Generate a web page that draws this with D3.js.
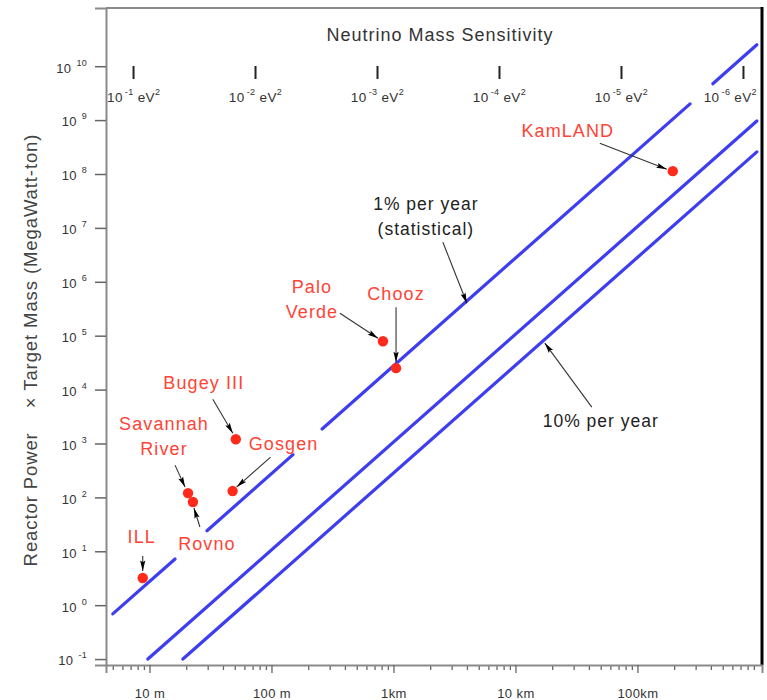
<!DOCTYPE html>
<html>
<head>
<meta charset="utf-8">
<script src="https://cdn.jsdelivr.net/npm/d3@7"></script>
<style>
  html, body { margin: 0; padding: 0; background: #fff; }
  svg { display: block; font-family: "Liberation Sans", Arial, Helvetica, sans-serif; }
</style>
</head>
<body>
<svg id="chart" width="767" height="700"></svg>
<script>
// Reactor experiments: baseline (m) and reactor power x target mass (MW·ton)
const experiments = ["ILL", "Savannah River", "Rovno", "Gosgen", "Bugey III", "Palo Verde", "Chooz", "KamLAND"];
const baselines   = [8.8, 20.7, 22.7, 48, 51, 820, 1050, 195000];
const exposures   = [3.2, 120, 82, 131, 1200, 79000, 25000, 1.13e8];

// Sensitivity curves, each a list of straight segments [[L0, P0], [L1, P1]]
const curveNames = ["1% per year (statistical)", "middle", "10% per year"];
const curve1 = [
  [[5, 0.69], [16.2, 7.2]],
  [[29.6, 24.1], [150, 620]],
  [[260, 1860], [270000, 2.0e9]],
  [[415000, 4.74e9], [953000, 2.5e10]]
];
const curve2 = [[[9.7, 0.1], [953000, 9.6e8]]];
const curve3 = [[[18.8, 0.1], [953000, 2.57e8]]];

// Axis ticks
const powerTicks = [-1, 0, 1, 2, 3, 4, 5, 6, 7, 8, 9, 10];        // exponents of 10
const distanceTicks = [10, 100, 1000, 10000, 100000];
const distanceLabels = ["10 m", "100 m", "1km", "10 km", "100km"];
const massExponents = [-1, -2, -3, -4, -5, -6];                   // Δm² = 10^n eV²
const massToDistance = 0.74;                                       // L (m) at which Δm² (eV²) is probed: L = k / Δm²

const svg = d3.select("#chart");
const W = 767, H = 700;
const margin = { top: 8, right: 5, bottom: 35, left: 106 };

const x = d3.scaleLog().domain([4.4, 1.05e6]).range([margin.left, W - margin.right]);
const y = d3.scaleLog().domain([Math.pow(10, -1.11), Math.pow(10, 11.08)]).range([H - margin.bottom, margin.top]);

const blue = "#3d3df2";
const red = "#ff2a1c";
const labelRed = "#ff4436";

// arrowhead marker
svg.append("defs").append("marker")
  .attr("id", "head")
  .attr("viewBox", "0 -4 12 8")
  .attr("refX", 12).attr("refY", 0)
  .attr("markerUnits", "userSpaceOnUse")
  .attr("markerWidth", 12).attr("markerHeight", 7)
  .attr("orient", "auto")
  .append("path").attr("d", "M0,-3L12,0L0,3L2,0Z").attr("fill", "#000");

// ---- frame ----
const x0 = margin.left, x1 = W - margin.right, y0 = margin.top, y1 = H - margin.bottom;
svg.append("line").attr("x1", x0).attr("x2", x1).attr("y1", y0).attr("y2", y0)
  .attr("stroke", "#8a8a8a").attr("stroke-width", 2);
svg.append("line").attr("x1", x1).attr("x2", x1).attr("y1", y0 - 1).attr("y2", y1)
  .attr("stroke", "#000").attr("stroke-width", 3);

// ---- bottom axis ----
const minorDistances = [];
for (let e = 0; e <= 5; e++) {
  for (let m = 1; m <= 9; m++) {
    const v = m * Math.pow(10, e);
    if (v >= x.domain()[0] && v <= x.domain()[1] && m !== 1) minorDistances.push(v);
  }
}
const gxMinor = svg.append("g").attr("transform", `translate(0,${y1})`)
  .call(d3.axisBottom(x).tickValues(minorDistances).tickSize(5).tickFormat(""));
const gx = svg.append("g").attr("transform", `translate(0,${y1})`)
  .call(d3.axisBottom(x).tickValues(distanceTicks).tickSize(8)
    .tickFormat((d, i) => distanceLabels[i]).tickPadding(16));
[gx, gxMinor].forEach(g => {
  g.select(".domain").attr("stroke", "#8a8a8a").attr("stroke-width", 2);
  g.selectAll(".tick line").attr("stroke", "#666").attr("stroke-width", 1.3);
});
gxMinor.select(".domain").remove();
gx.selectAll(".tick text")
  .attr("font-size", 13).attr("fill", "#333").attr("letter-spacing", 0.4)
  .attr("font-family", "Liberation Sans, Arial, sans-serif");

// ---- left axis ----
const gy = svg.append("g").attr("transform", `translate(${x0},0)`)
  .call(d3.axisLeft(y).tickValues(powerTicks.map(p => Math.pow(10, p))).tickSize(11).tickFormat(""));
gy.select(".domain").attr("stroke", "#8a8a8a").attr("stroke-width", 2);
gy.selectAll(".tick line").attr("stroke", "#666").attr("stroke-width", 1.5);
gy.selectAll(".tick").append("text")
  .attr("x", -19).attr("dy", "0.45em")
  .attr("text-anchor", "end")
  .attr("fill", "#333").attr("font-size", 13).attr("letter-spacing", 0.3)
  .each(function (d) {
    const t = d3.select(this);
    const p = Math.round(Math.log10(d));
    t.append("tspan").text("10");
    t.append("tspan").attr("dx", 5).attr("dy", -7).attr("font-size", 9)
      .text(p < 0 ? "-" + Math.abs(p) : String(p));
  });

// ---- y-axis title ----
svg.append("text")
  .attr("transform", `translate(37,${350}) rotate(-90)`)
  .attr("text-anchor", "middle")
  .attr("fill", "#444").attr("font-size", 18.5).attr("letter-spacing", 0.9)
  .attr("xml:space", "preserve")
  .text("Reactor Power    \u00d7 Target Mass (MegaWatt-ton)");

// ---- top: neutrino mass sensitivity scale ----
svg.append("text")
  .attr("x", 440).attr("y", 41).attr("text-anchor", "middle")
  .attr("fill", "#333").attr("font-size", 18).attr("letter-spacing", 1)
  .text("Neutrino Mass Sensitivity");

const massTicks = svg.append("g").selectAll("g").data(massExponents).join("g")
  .attr("transform", d => `translate(${x(massToDistance / Math.pow(10, d))},0)`);
massTicks.append("line").attr("y1", 66).attr("y2", 79)
  .attr("stroke", "#222").attr("stroke-width", 2);
// labels centred under their tick, kept inside the frame
massTicks.append("text").attr("y", 102).attr("text-anchor", "middle")
  .attr("fill", "#333").attr("font-size", 13.5).attr("letter-spacing", 0.4)
  .each(function (d) {
    const t = d3.select(this);
    t.append("tspan").text("10");
    t.append("tspan").attr("dx", 2).attr("dy", -7).attr("font-size", 9).text("-" + Math.abs(d));
    t.append("tspan").attr("dx", 4).attr("dy", 7).text("eV");
    t.append("tspan").attr("dy", -7).attr("font-size", 9).text("2");
  })
  .attr("x", function (d) {
    const cx = x(massToDistance / Math.pow(10, d));
    const half = this.getComputedTextLength() / 2;
    const c = Math.max(x0 + half + 4, Math.min(x1 - half - 8, cx));
    return c - cx;
  });

// ---- sensitivity lines ----
const line = d3.line().x(d => x(d[0])).y(d => y(d[1]));
const gLines = svg.append("g");
[curve1, curve2, curve3].forEach(curve => {
  curve.forEach(seg => {
    gLines.append("path").attr("d", line(seg))
      .attr("fill", "none").attr("stroke", blue).attr("stroke-width", 3.2)
      .attr("stroke-linecap", "round");
  });
});

// ---- annotation arrows and labels (offsets in px from each dot) ----
const expLayout = {
  "ILL":            { lines: ["ILL"], dx: -1, dy: -35, arrow: [[0, -22], [0, -7]] },
  "Savannah River": { lines: ["Savannah", "River"], dx: -24, dy: -63, arrow: [[-13, -28], [-3, -6]] },
  "Rovno":          { lines: ["Rovno"], dx: 14, dy: 48, arrow: [[7, 25], [1, 6]] },
  "Gosgen":         { lines: ["Gosgen"], dx: 51, dy: -41, arrow: [[38, -34], [4, -4]] },
  "Bugey III":      { lines: ["Bugey III"], dx: -32, dy: -50, arrow: [[-23, -40], [-3, -6]] },
  "Palo Verde":     { lines: ["Palo", "Verde"], dx: -71, dy: -48, arrow: [[-43, -28], [-5, -3]] },
  "Chooz":          { lines: ["Chooz"], dx: 0, dy: -68, arrow: [[0, -61], [0, -6]] },
  "KamLAND":        { lines: ["KamLAND"], dx: -105, dy: -34, arrow: [[-73, -28], [-6, -2]] }
};

const gAnn = svg.append("g");
experiments.forEach((name, i) => {
  const px = x(baselines[i]), py = y(exposures[i]);
  const lay = expLayout[name];
  gAnn.append("line")
    .attr("x1", px + lay.arrow[0][0]).attr("y1", py + lay.arrow[0][1])
    .attr("x2", px + lay.arrow[1][0]).attr("y2", py + lay.arrow[1][1])
    .attr("stroke", "#333").attr("stroke-width", 1.1)
    .attr("marker-end", "url(#head)");
  const t = gAnn.append("text")
    .attr("text-anchor", "middle").attr("fill", labelRed)
    .attr("font-size", 18).attr("letter-spacing", 1.1);
  lay.lines.forEach((s, k) => {
    t.append("tspan").attr("x", px + lay.dx).attr("y", py + lay.dy + k * 25).text(s);
  });
});

// experiment dots
svg.append("g").selectAll("circle").data(experiments).join("circle")
  .attr("cx", (d, i) => x(baselines[i]))
  .attr("cy", (d, i) => y(exposures[i]))
  .attr("r", 5.2)
  .attr("fill", red);

// curve labels with arrows pointing at a point on the curve
const curveNotes = [
  { lines: ["1% per year", "(statistical)"], target: [4000, 4.0e5], text: [-41, -93], from: [-24, -61] },
  { lines: ["10% per year"], target: [17400, 7.3e4], text: [56, 84], from: [47, 64] }
];
curveNotes.forEach(n => {
  const tx = x(n.target[0]), ty = y(n.target[1]);
  gAnn.append("line")
    .attr("x1", tx + n.from[0]).attr("y1", ty + n.from[1])
    .attr("x2", tx).attr("y2", ty)
    .attr("stroke", "#333").attr("stroke-width", 1.1)
    .attr("marker-end", "url(#head)");
  const t = gAnn.append("text").attr("text-anchor", "middle")
    .attr("fill", "#222").attr("font-size", 17.5).attr("letter-spacing", 1);
  n.lines.forEach((s, k) => {
    t.append("tspan").attr("x", tx + n.text[0]).attr("y", ty + n.text[1] + k * 25).text(s);
  });
});
</script>
</body>
</html>
